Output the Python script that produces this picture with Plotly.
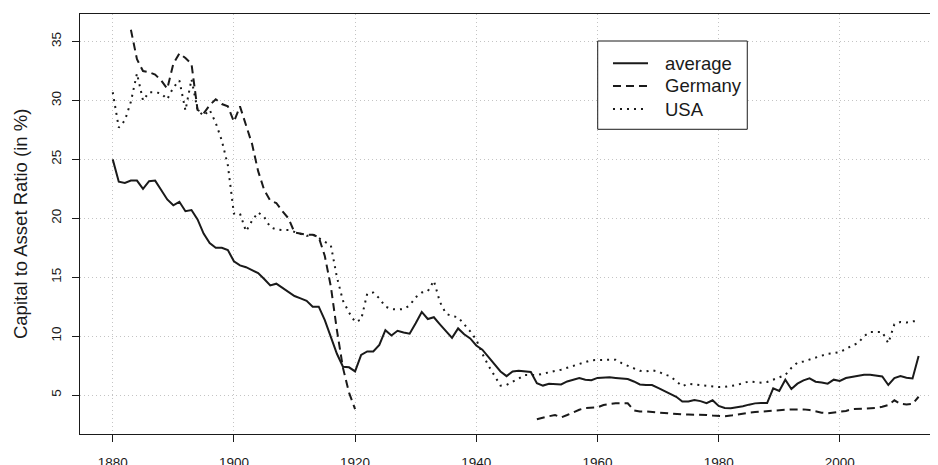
import plotly.graph_objects as go

# yearly series, 1880-2013 (None = no observation)
years = list(range(1880, 2014))

average = [
    25.0, 23.1, 23.0, 23.2, 23.2, 22.5, 23.15, 23.2, 22.4, 21.6,      # 1880s
    21.1, 21.4, 20.6, 20.7, 19.9, 18.7, 17.9, 17.5, 17.5, 17.3,       # 1890s
    16.35, 16.0, 15.85, 15.6, 15.35, 14.85, 14.3, 14.45, 14.1, 13.7,  # 1900s
    13.4, 13.2, 13.0, 12.5, 12.5, 11.35, 9.9, 8.5, 7.4, 7.35,         # 1910s
    7.0, 8.4, 8.7, 8.7, 9.25, 10.5, 10.05, 10.45, 10.3, 10.2,         # 1920s
    11.1, 12.05, 11.45, 11.6, 11.0, 10.45, 9.85, 10.65, 10.15, 9.8,   # 1930s
    9.2, 8.85, 8.2, 7.6, 7.0, 6.6, 7.0, 7.05, 7.0, 6.95,              # 1940s
    6.0, 5.8, 5.95, 5.9, 5.9, 6.15, 6.3, 6.45, 6.3, 6.25,             # 1950s
    6.45, 6.5, 6.5, 6.45, 6.4, 6.35, 6.15, 5.9, 5.85, 5.85,           # 1960s
    5.6, 5.35, 5.1, 4.85, 4.45, 4.45, 4.58, 4.48, 4.3, 4.55,          # 1970s
    4.07, 3.9, 3.87, 3.93, 4.04, 4.18, 4.29, 4.32, 4.32, 5.56,        # 1980s
    5.34, 6.3, 5.51, 5.96, 6.24, 6.41, 6.13, 6.07, 5.96, 6.3,         # 1990s
    6.19, 6.44, 6.53, 6.64, 6.72, 6.72, 6.64, 6.58, 5.85, 6.44,       # 2000s
    6.61, 6.47, 6.41, 8.31,                                           # 2010-2013
]

germany = [
    None, None, None, 36.0, 33.5, 32.5, 32.4, 32.2, 31.7, 31.0,       # 1880s
    33.1, 34.0, 33.6, 33.1, 29.2, 28.9, 29.6, 30.1, 29.7, 29.5,       # 1890s
    28.2, 29.5, 27.8, 26.3, 24.0, 22.4, 21.5, 21.3, 20.6, 20.0,       # 1900s
    18.8, 18.7, 18.6, 18.6, 18.4, 16.8, 14.2, 10.5, 7.3, 5.2,         # 1910s
    3.8, None, None, None, None, None, None, None, None, None,        # 1920s
    None, None, None, None, None, None, None, None, None, None,       # 1930s
    None, None, None, None, None, None, None, None, None, None,       # 1940s
    2.95, 3.1, 3.2, 3.3, 3.1, 3.3, 3.55, 3.75, 3.9, 3.95,             # 1950s
    3.95, 4.15, 4.25, 4.3, 4.3, 4.3, 3.7, 3.6, 3.6, 3.55,             # 1960s
    3.5, 3.45, 3.45, 3.4, 3.35, 3.35, 3.35, 3.35, 3.3, 3.25,          # 1970s
    3.2, 3.2, 3.25, 3.35, 3.42, 3.5, 3.55, 3.6, 3.62, 3.65,           # 1980s
    3.7, 3.75, 3.78, 3.8, 3.78, 3.72, 3.6, 3.5, 3.45, 3.5,            # 1990s
    3.58, 3.65, 3.8, 3.82, 3.85, 3.85, 3.9, 4.0, 4.15, 4.55,          # 2000s
    4.25, 4.2, 4.25, 4.85,                                            # 2010-2013
]

usa = [
    30.7, 27.7, 28.3, 29.9, 32.3, 30.0, 30.7, 30.7, 30.6, 30.1,       # 1880s
    31.1, 31.7, 29.15, 31.8, 29.2, 28.7, 29.2, 28.1, 26.6, 24.5,      # 1890s
    20.4, 20.4, 18.9, 19.8, 20.5, 20.1, 19.25, 19.05, 19.0, 19.0,     # 1900s
    18.85, 18.7, 18.5, 18.65, 18.3, 18.0, 17.7, 15.0, 13.0, 12.0,     # 1910s
    11.2, 11.4, 13.6, 13.7, 13.2, 12.5, 12.3, 12.25, 12.3, 12.6,      # 1920s
    13.3, 13.7, 13.8, 14.7, 12.9, 11.9, 11.7, 11.6, 11.0, 10.4,       # 1930s
    9.7, 8.5, 7.5, 6.6, 5.8, 5.85, 6.1, 6.4, 6.7, 6.7,                # 1940s
    6.7, 6.8, 6.95, 7.05, 7.15, 7.3, 7.45, 7.65, 7.8, 7.95,           # 1950s
    7.97, 7.97, 7.97, 8.0, 7.7, 7.5, 7.3, 7.05, 7.0, 7.1,             # 1960s
    7.0, 6.75, 6.6, 6.2, 5.75, 5.95, 5.9, 5.85, 5.8, 5.7,             # 1970s
    5.68, 5.7, 5.75, 5.85, 6.0, 6.15, 6.1, 6.05, 6.1, 6.3,            # 1980s
    6.45, 6.7, 7.3, 7.75, 7.85, 8.0, 8.2, 8.35, 8.5, 8.55,            # 1990s
    8.65, 8.9, 9.2, 9.4, 10.0, 10.35, 10.35, 10.35, 9.4, 11.0,        # 2000s
    11.2, 11.15, 11.25, 11.3,                                         # 2010-2013
]

x_ticks = [1880, 1900, 1920, 1940, 1960, 1980, 2000]
y_ticks = [5, 10, 15, 20, 25, 30, 35]

series = [
    ("average", average, "solid"),
    ("Germany", germany, "8px,5px"),
    ("USA", usa, "2px,5px"),
]

FONT = "Liberation Sans, Arial, Helvetica, sans-serif"
INK = "#1a1a1a"
GRID = "#c4c4c4"

fig = go.Figure()

for name, values, dash in series:
    fig.add_trace(go.Scatter(
        x=years, y=values, mode="lines", name=name,
        line=dict(color=INK, width=2, dash=dash),
        connectgaps=False,
    ))

axis_common = dict(
    showline=True, linecolor=INK, linewidth=1.2,
    ticks="outside", ticklen=7, tickcolor=INK, tickwidth=1,
    showgrid=True, gridcolor=GRID, griddash="1px,3px", gridwidth=1,
    zeroline=False, automargin=False,
    tickfont=dict(family=FONT, size=13.5, color=INK),
)

# legend box drawn by hand, R style (paper coordinates)
shapes = [dict(type="rect", xref="paper", yref="paper",
               x0=0.6034, x1=0.7777, y0=0.7255, y1=0.9357,
               line=dict(color=INK, width=1), fillcolor="white", layer="above")]
annotations = []
row_y = [0.8826, 0.8286, 0.7738]
for (name, _, dash), ry in zip(series, row_y):
    shapes.append(dict(type="line", xref="paper", yref="paper",
                       x0=0.6212, x1=0.6620, y0=ry, y1=ry,
                       line=dict(color=INK, width=2, dash=dash), layer="above"))
    annotations.append(dict(text=name, xref="paper", yref="paper",
                            x=0.6795, y=ry, xanchor="left", yanchor="middle",
                            showarrow=False,
                            font=dict(family=FONT, size=18.5, color=INK)))

annotations.append(dict(text="Capital to Asset Ratio (in %)",
                        xref="paper", yref="paper", x=-0.0699, y=0.5,
                        textangle=-90, xanchor="center", yanchor="middle",
                        showarrow=False,
                        font=dict(family=FONT, size=18.5, color=INK)))

# the page body adds an 8px offset, so margins are trimmed by 8px on top/left
fig.update_layout(
    width=938, height=465,
    margin=dict(l=72, r=8, t=6, b=39, autoexpand=False),
    paper_bgcolor="white", plot_bgcolor="white",
    font=dict(family=FONT, color=INK),
    xaxis=dict(range=[1874.6, 2016.2], tickvals=x_ticks, mirror=True,
               ticklabelstandoff=9, **axis_common),
    yaxis=dict(range=[1.69, 37.34], tickvals=y_ticks, tickangle=-90,
               ticklabelstandoff=6, **axis_common),
    showlegend=False,
    shapes=shapes,
    annotations=annotations,
)

fig.write_html("out.html")
